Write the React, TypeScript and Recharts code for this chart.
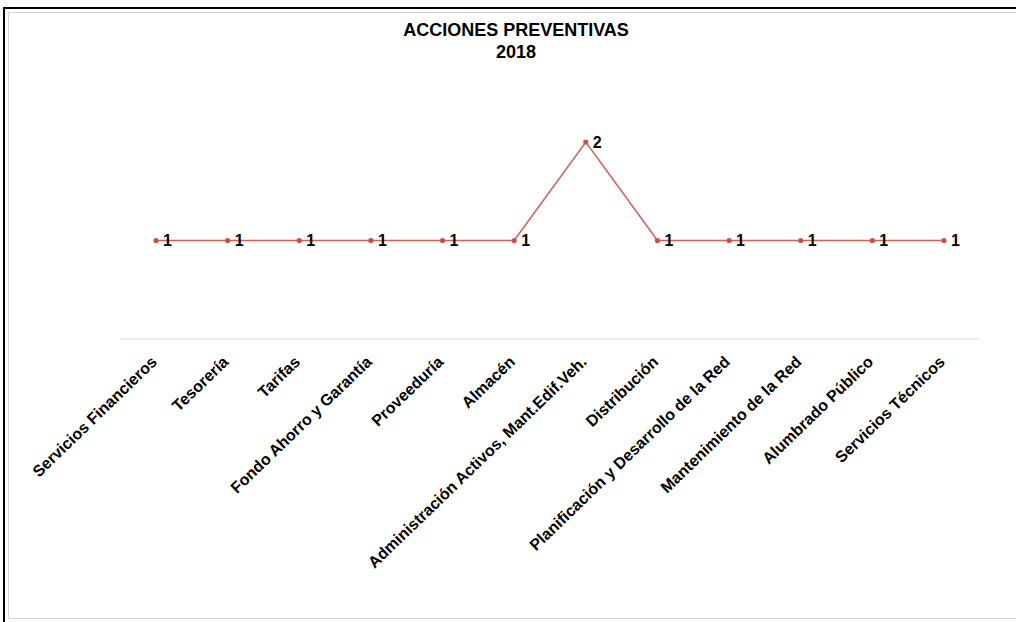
import { LineChart, Line, XAxis, YAxis, LabelList } from "recharts";

const areas = [
  "Servicios Financieros",
  "Tesorería",
  "Tarifas",
  "Fondo Ahorro y Garantía",
  "Proveeduría",
  "Almacén",
  "Administración Activos, Mant.Edif.Veh.",
  "Distribución",
  "Planificación y Desarrollo de la Red",
  "Mantenimiento de la Red",
  "Alumbrado Público",
  "Servicios Técnicos",
];

const acciones = [1, 1, 1, 1, 1, 1, 2, 1, 1, 1, 1, 1];

const data = areas.map((area, i) => ({ area, acciones: acciones[i] }));

const FONT = "'Liberation Sans', Arial, sans-serif";

function AreaTick(props: any) {
  const { x, y, payload } = props;
  const ax = x - 2;
  const ay = y + 12;
  return (
    <text
      x={ax}
      y={ay}
      transform={`rotate(-44, ${ax}, ${ay})`}
      textAnchor="end"
      dy="0.35em"
      fontFamily={FONT}
      fontWeight="bold"
      fontSize={16}
      fill="#000"
    >
      {payload.value}
    </text>
  );
}

function ValueLabel(props: any) {
  const { x, y, value } = props;
  return (
    <text
      x={x + 7}
      y={y}
      dy="0.36em"
      fontFamily={FONT}
      fontWeight="bold"
      fontSize={16}
      fill="#000"
    >
      {value}
    </text>
  );
}

export default function App() {
  return (
    <div
      style={{
        position: "absolute",
        left: 0,
        top: 0,
        width: 1016,
        height: 622,
        background: "#fff",
        overflow: "hidden",
      }}
    >
      <div style={{ position: "absolute", left: 3, top: 7, width: 1013, height: 2, background: "#000" }} />
      <div style={{ position: "absolute", left: 3, top: 7, width: 2, height: 615, background: "#000" }} />
      <div
        style={{
          position: "absolute",
          left: 8,
          top: 12,
          width: 1010,
          height: 607,
          border: "1px solid #d4d4d4",
          borderRight: "none",
          boxSizing: "border-box",
        }}
      />
      <div
        style={{
          position: "absolute",
          left: 0,
          top: 19,
          width: 1032,
          textAlign: "center",
          fontFamily: FONT,
          fontWeight: "bold",
          fontSize: 18,
          lineHeight: "22px",
          color: "#000",
        }}
      >
        ACCIONES PREVENTIVAS
        <br />
        2018
      </div>
      <div style={{ position: "absolute", left: 0, top: 0 }}>
        <LineChart
          width={1016}
          height={622}
          data={data}
          margin={{ top: 142, right: 36, bottom: 0, left: 120 }}
        >
          <XAxis
            dataKey="area"
            interval={0}
            height={283}
            tickLine={false}
            axisLine={{ stroke: "#d9d9d9" }}
            padding={{ left: 36, right: 36 }}
            tick={<AreaTick />}
          />
          <YAxis hide domain={[0, 2]} />
          <Line
            type="linear"
            dataKey="acciones"
            stroke="#d0625c"
            strokeWidth={1.6}
            dot={{ r: 1.8, fill: "#c9504a", stroke: "#c9504a" }}
            isAnimationActive={false}
          >
            <LabelList dataKey="acciones" content={<ValueLabel />} />
          </Line>
        </LineChart>
      </div>
    </div>
  );
}
